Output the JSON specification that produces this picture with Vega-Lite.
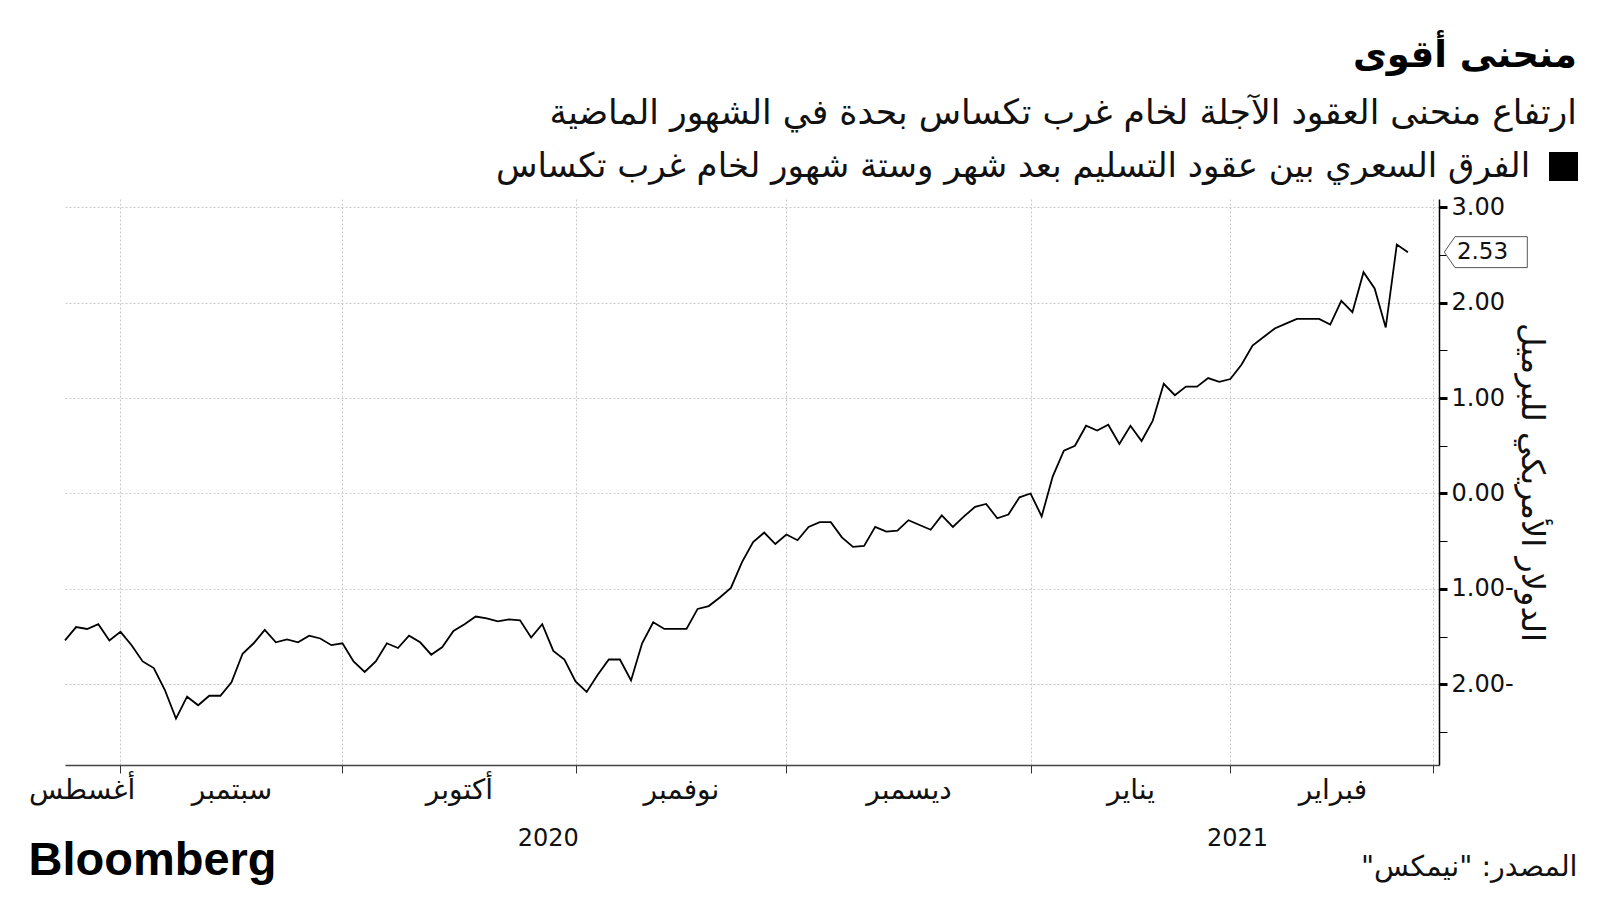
{
  "$schema": "https://vega.github.io/schema/vega-lite/v6.json",
  "width": 1374,
  "height": 566,
  "autosize": {"type": "none"},
  "padding": {"left": 65, "top": 199, "right": 161, "bottom": 135},
  "background": "white",
  "config": {"view": {"stroke": null}, "font": "DejaVu Sans"},
  "title": {
    "text": "منحنى أقوى",
    "subtitle": "ارتفاع منحنى العقود الآجلة لخام غرب تكساس بحدة في الشهور الماضية",
    "anchor": "end",
    "frame": "group",
    "orient": "top",
    "dx": 138,
    "offset": 20,
    "font": "DejaVu Sans",
    "fontSize": 37,
    "fontWeight": "bold",
    "color": "#000",
    "subtitleFont": "DejaVu Sans",
    "subtitleFontSize": 34.7,
    "subtitleColor": "#111",
    "subtitlePadding": 22
  },
  "datasets": {
    "spread": [
      {"i": 0, "v": -1.54}, {"i": 1, "v": -1.40}, {"i": 2, "v": -1.42}, {"i": 3, "v": -1.37}, {"i": 4, "v": -1.54},
      {"i": 5, "v": -1.45}, {"i": 6, "v": -1.59}, {"i": 7, "v": -1.76}, {"i": 8, "v": -1.83}, {"i": 9, "v": -2.06},
      {"i": 10, "v": -2.36}, {"i": 11, "v": -2.13}, {"i": 12, "v": -2.22}, {"i": 13, "v": -2.12}, {"i": 14, "v": -2.12},
      {"i": 15, "v": -1.98}, {"i": 16, "v": -1.68}, {"i": 17, "v": -1.57}, {"i": 18, "v": -1.43}, {"i": 19, "v": -1.56},
      {"i": 20, "v": -1.53}, {"i": 21, "v": -1.56}, {"i": 22, "v": -1.49}, {"i": 23, "v": -1.52}, {"i": 24, "v": -1.59},
      {"i": 25, "v": -1.57}, {"i": 26, "v": -1.76}, {"i": 27, "v": -1.87}, {"i": 28, "v": -1.76}, {"i": 29, "v": -1.57},
      {"i": 30, "v": -1.62}, {"i": 31, "v": -1.49}, {"i": 32, "v": -1.56}, {"i": 33, "v": -1.69}, {"i": 34, "v": -1.61},
      {"i": 35, "v": -1.44}, {"i": 36, "v": -1.37}, {"i": 37, "v": -1.29}, {"i": 38, "v": -1.31}, {"i": 39, "v": -1.34},
      {"i": 40, "v": -1.32}, {"i": 41, "v": -1.33}, {"i": 42, "v": -1.51}, {"i": 43, "v": -1.37}, {"i": 44, "v": -1.65},
      {"i": 45, "v": -1.74}, {"i": 46, "v": -1.97}, {"i": 47, "v": -2.08}, {"i": 48, "v": -1.90}, {"i": 49, "v": -1.74},
      {"i": 50, "v": -1.74}, {"i": 51, "v": -1.96}, {"i": 52, "v": -1.57}, {"i": 53, "v": -1.35}, {"i": 54, "v": -1.42},
      {"i": 55, "v": -1.42}, {"i": 56, "v": -1.42}, {"i": 57, "v": -1.21}, {"i": 58, "v": -1.18}, {"i": 59, "v": -1.09},
      {"i": 60, "v": -0.99}, {"i": 61, "v": -0.72}, {"i": 62, "v": -0.51}, {"i": 63, "v": -0.41}, {"i": 64, "v": -0.53},
      {"i": 65, "v": -0.43}, {"i": 66, "v": -0.49}, {"i": 67, "v": -0.35}, {"i": 68, "v": -0.30}, {"i": 69, "v": -0.30},
      {"i": 70, "v": -0.46}, {"i": 71, "v": -0.56}, {"i": 72, "v": -0.55}, {"i": 73, "v": -0.35}, {"i": 74, "v": -0.40},
      {"i": 75, "v": -0.39}, {"i": 76, "v": -0.28}, {"i": 77, "v": -0.33}, {"i": 78, "v": -0.38}, {"i": 79, "v": -0.23},
      {"i": 80, "v": -0.35}, {"i": 81, "v": -0.24}, {"i": 82, "v": -0.14}, {"i": 83, "v": -0.11}, {"i": 84, "v": -0.26},
      {"i": 85, "v": -0.22}, {"i": 86, "v": -0.04}, {"i": 87, "v": 0.00}, {"i": 88, "v": -0.24}, {"i": 89, "v": 0.18},
      {"i": 90, "v": 0.45}, {"i": 91, "v": 0.50}, {"i": 92, "v": 0.71}, {"i": 93, "v": 0.66}, {"i": 94, "v": 0.72},
      {"i": 95, "v": 0.52}, {"i": 96, "v": 0.71}, {"i": 97, "v": 0.55}, {"i": 98, "v": 0.76}, {"i": 99, "v": 1.15},
      {"i": 100, "v": 1.03}, {"i": 101, "v": 1.12}, {"i": 102, "v": 1.12}, {"i": 103, "v": 1.21}, {"i": 104, "v": 1.17},
      {"i": 105, "v": 1.20}, {"i": 106, "v": 1.35}, {"i": 107, "v": 1.55}, {"i": 108, "v": 1.64}, {"i": 109, "v": 1.73},
      {"i": 110, "v": 1.78}, {"i": 111, "v": 1.83}, {"i": 112, "v": 1.83}, {"i": 113, "v": 1.83}, {"i": 114, "v": 1.77},
      {"i": 115, "v": 2.02}, {"i": 116, "v": 1.90}, {"i": 117, "v": 2.32}, {"i": 118, "v": 2.15}, {"i": 119, "v": 1.74},
      {"i": 120, "v": 2.61}, {"i": 121, "v": 2.53}
    ]
  },
  "data": {"name": "spread"},
  "layer": [
    {
      "mark": {"type": "line", "strokeWidth": 1.8},
      "encoding": {
        "x": {
          "field": "i",
          "type": "quantitative",
          "scale": {"domain": [0, 123.8], "nice": false, "zero": false},
          "axis": {
            "title": "المصدر: \"نيمكس\"\u200f",
            "titleFont": "DejaVu Sans",
            "titleFontSize": 28.5,
            "titleFontWeight": "normal",
            "titleColor": "#111",
            "titleAlign": "right",
            "titleBaseline": "middle",
            "titleX": 1512,
            "titleY": 101,
            "values": [1.5, 5, 15, 25, 35.5, 43.5, 46, 55.5, 65, 76, 87, 96, 105, 105.6, 114.2, 123.3],
            "labelExpr": "datum.value == 1.5 ? 'أغسطس' : datum.value == 15 ? 'سبتمبر' : datum.value == 35.5 ? 'أكتوبر' : datum.value == 55.5 ? 'نوفمبر' : datum.value == 76 ? 'ديسمبر' : datum.value == 96 ? 'يناير' : datum.value == 114.2 ? 'فبراير' : datum.value == 43.5 ? ['', '2020'] : datum.value == 105.6 ? ['', '2021'] : ''",
            "labelOverlap": false,
            "labelFlush": false,
            "labelBound": false,
            "labelFont": "DejaVu Sans",
            "labelFontSize": {"condition": {"test": "datum.value == 43.5 || datum.value == 105.6", "value": 24}, "value": 28},
            "labelColor": "#111",
            "labelPadding": 3,
            "labelLineHeight": 50,
            "tickSize": 8,
            "tickColor": "#333",
            "tickOpacity": {"condition": {"test": "indexof([5,25,46,65,87,105,123.3], datum.value) >= 0", "value": 1}, "value": 0},
            "grid": true,
            "gridColor": "#c8c8c8",
            "gridDash": [2, 2],
            "gridOpacity": {"condition": {"test": "indexof([5,25,46,65,87,105,123.3], datum.value) >= 0", "value": 1}, "value": 0},
            "domainColor": "#444",
            "domainWidth": 1.5
          }
        },
        "y": {
          "field": "v",
          "type": "quantitative",
          "scale": {"domain": [-2.846, 3.087], "nice": false, "zero": false},
          "axis": {
            "orient": "right",
            "values": [-2.5, -2, -1.5, -1, -0.5, 0, 0.5, 1, 1.5, 2, 2.5, 3],
            "labelExpr": "datum.value % 1 != 0 ? '' : datum.value < 0 ? format(-datum.value, '.2f') + '-' : format(datum.value, '.2f')",
            "labelOverlap": false,
            "labelFont": "DejaVu Sans",
            "labelFontSize": 24,
            "labelColor": "#111",
            "labelPadding": 4,
            "tickSize": 8,
            "tickColor": "#000",
            "tickWidth": {"condition": {"test": "datum.value % 1 == 0", "value": 3}, "value": 1},
            "grid": true,
            "gridColor": "#c8c8c8",
            "gridDash": [2, 2],
            "gridOpacity": {"condition": {"test": "datum.value % 1 == 0", "value": 1}, "value": 0},
            "domainColor": "#000",
            "domainWidth": 1.5,
            "title": "الدولار الأمريكي للبرميل",
            "titleAngle": 90,
            "titleX": 92,
            "titleY": 283,
            "titleAlign": "center",
            "titleBaseline": "middle",
            "titleFont": "DejaVu Sans",
            "titleFontSize": 32,
            "titleFontWeight": "normal",
            "titleColor": "#111"
          }
        },
        "color": {
          "datum": "الفرق السعري",
          "type": "nominal",
          "scale": {"range": ["#000"]},
          "legend": {
            "orient": "none",
            "legendX": 431,
            "legendY": -47,
            "title": "الفرق السعري بين عقود التسليم بعد شهر وستة شهور لخام غرب تكساس",
            "titleOrient": "left",
            "titleLimit": 1400,
            "titleFont": "DejaVu Sans",
            "titleFontSize": 34,
            "titleFontWeight": "normal",
            "titleColor": "#111",
            "titlePadding": 18,
            "symbolType": "square",
            "symbolSize": 841,
            "symbolStrokeWidth": 0,
            "symbolFillColor": "#000",
            "labelExpr": "''",
            "labelFontSize": 1,
            "labelOffset": 0
          }
        }
      }
    },
    {
      "transform": [{"filter": "datum.i == 121"}],
      "mark": {
        "type": "point",
        "shape": "M -1 0 L -0.742 -0.373 L 1 -0.373 L 1 0.373 L -0.742 0.373 Z",
        "size": 6889,
        "filled": true,
        "fill": "#fff",
        "stroke": "#555",
        "strokeWidth": 1,
        "opacity": 1,
        "xOffset": 46.8
      },
      "encoding": {
        "x": {"value": "width"},
        "y": {"field": "v", "type": "quantitative", "axis": null}
      }
    },
    {
      "transform": [{"filter": "datum.i == 121"}],
      "mark": {"type": "text", "font": "DejaVu Sans", "fontSize": 23, "color": "#111", "align": "center", "baseline": "middle", "dx": 43.5},
      "encoding": {
        "x": {"value": "width"},
        "y": {
          "field": "v",
          "type": "quantitative",
          "axis": {
            "orient": "left",
            "title": "Bloomberg",
            "labels": false,
            "ticks": false,
            "domain": false,
            "grid": false,
            "titleAngle": 0,
            "titleX": -37,
            "titleY": 675,
            "titleAlign": "left",
            "titleBaseline": "alphabetic",
            "titleFont": "Liberation Sans",
            "titleFontSize": 47,
            "titleFontWeight": "bold",
            "titleColor": "#000"
          }
        },
        "text": {"field": "v", "type": "quantitative", "format": ".2f"}
      }
    }
  ],
  "resolve": {"axis": {"y": "independent"}}
}
